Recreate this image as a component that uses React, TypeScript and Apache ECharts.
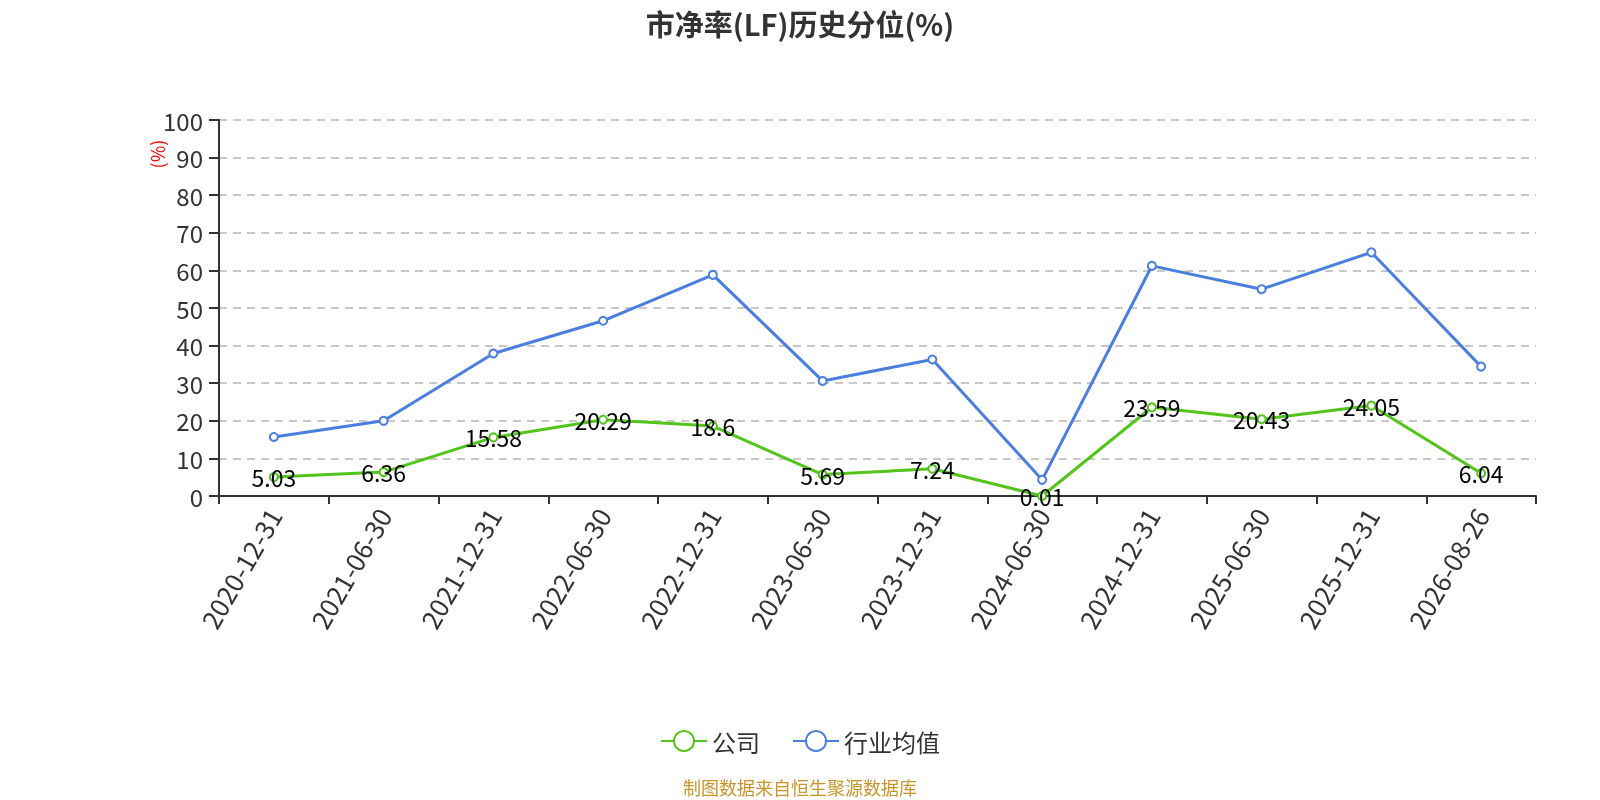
import React, { useEffect, useRef } from "react";
import * as echarts from "echarts";

const categories = [
  "2020-12-31", "2021-06-30", "2021-12-31", "2022-06-30", "2022-12-31", "2023-06-30",
  "2023-12-31", "2024-06-30", "2024-12-31", "2025-06-30", "2025-12-31", "2026-08-26",
];
const companyValues = [5.03, 6.36, 15.58, 20.29, 18.6, 5.69, 7.24, 0.01, 23.59, 20.43, 24.05, 6.04];
const industryValues = [15.7, 20.0, 37.9, 46.6, 58.8, 30.6, 36.3, 4.3, 61.2, 55.0, 64.8, 34.4];
const seriesNames = ["公司", "行业均值"];
const titleText = "市净率(LF)历史分位(%)";
const sourceText = "制图数据来自恒生聚源数据库";
const yAxisUnit = "(%)";

export default function App() {
  const ref = useRef<HTMLDivElement>(null);
  useEffect(() => {
    if (!ref.current) return;
    const chart = echarts.init(ref.current, null, { renderer: "svg" });
    const font = "'Microsoft YaHei', 'Noto Sans CJK SC', 'Noto Sans', sans-serif";
    chart.setOption({
      animation: false,
      textStyle: { fontFamily: font },
      title: {
        text: titleText,
        left: "center",
        top: 3,
        textStyle: { fontSize: 29, fontWeight: "bold", color: "#333", fontFamily: font },
      },
      legend: {
        data: seriesNames,
        top: 724,
        left: "center",
        itemWidth: 46,
        itemHeight: 25,
        itemGap: 32,
        textStyle: { fontSize: 24, color: "#333", fontFamily: font },
      },
      graphic: [
        {
          type: "text",
          left: "center",
          top: 778,
          style: { text: sourceText, fill: "#c9952b", fontSize: 18, fontFamily: font },
        },
        {
          type: "text",
          x: 157,
          y: 154,
          rotation: Math.PI / 2,
          style: {
            text: yAxisUnit,
            fill: "#ff0000",
            fontSize: 18,
            fontFamily: font,
            align: "center",
            verticalAlign: "middle",
          },
        },
      ],
      grid: { left: 219, right: 64, top: 120, bottom: 304 },
      xAxis: {
        type: "category",
        data: categories,
        boundaryGap: true,
        axisLine: { lineStyle: { color: "#333", width: 2 } },
        axisTick: { show: true, lineStyle: { color: "#333", width: 2 }, length: 8 },
        axisLabel: { rotate: 60, fontSize: 26, color: "#333", margin: 14, interval: 0, fontFamily: font },
      },
      yAxis: {
        type: "value",
        min: 0,
        max: 100,
        interval: 10,
        axisLine: { show: true, lineStyle: { color: "#333", width: 2 } },
        axisTick: { show: true, lineStyle: { color: "#333", width: 2 }, length: 10 },
        axisLabel: { fontSize: 24, color: "#333", margin: 16, fontFamily: font },
        splitLine: { lineStyle: { type: [8, 6], color: "#c8c8c8", width: 2 } },
      },
      series: [
        {
          name: seriesNames[0],
          type: "line",
          data: companyValues,
          symbol: "emptyCircle",
          symbolSize: 8,
          itemStyle: { color: "#52c41a", borderWidth: 2 },
          lineStyle: { width: 3, color: "#52c41a" },
          label: {
            show: true,
            position: "inside",
            fontSize: 23,
            color: "#000",
            fontFamily: font,
          },
          z: 3,
        },
        {
          name: seriesNames[1],
          type: "line",
          data: industryValues,
          symbol: "emptyCircle",
          symbolSize: 8,
          itemStyle: { color: "#4a7fe0", borderWidth: 2 },
          lineStyle: { width: 3, color: "#4a7fe0" },
          z: 2,
        },
      ],
    });
    return () => chart.dispose();
  }, []);
  return (
    <div
      ref={ref}
      style={{ position: "fixed", left: 0, top: 0, width: 1600, height: 800 }}
    />
  );
}
